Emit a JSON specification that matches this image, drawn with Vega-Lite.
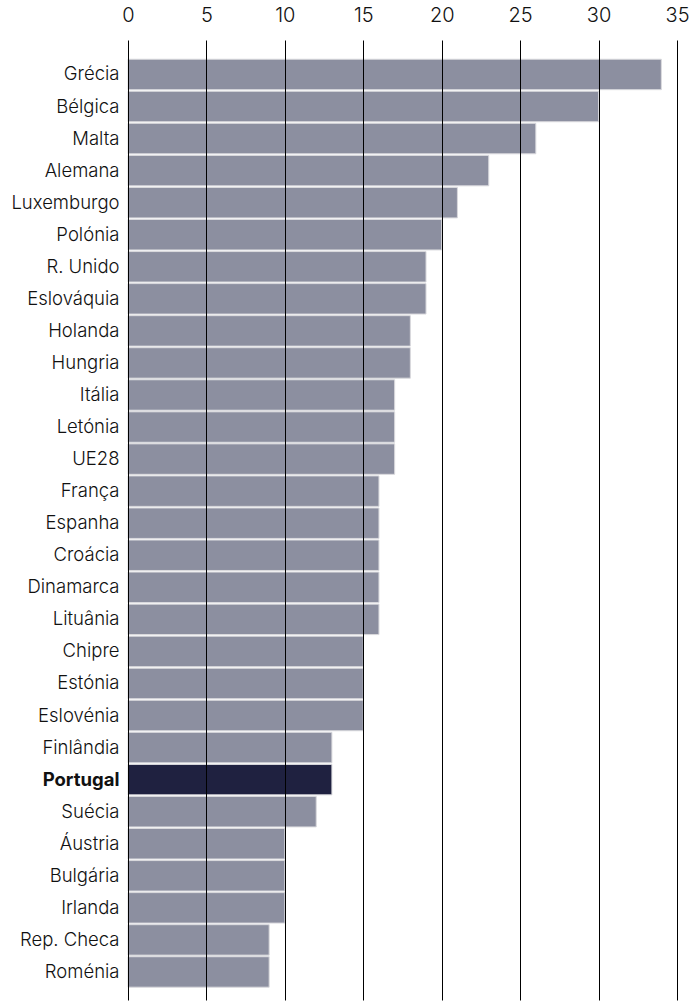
{
  "$schema": "https://vega.github.io/schema/vega-lite/v6.json",
  "width": 549,
  "height": 960,
  "autosize": "none",
  "padding": {"left": 128, "top": 40, "right": 23, "bottom": 4},
  "background": "white",
  "config": {"view": {"stroke": null}, "font": "Inter"},
  "data": {"values": [
    {"pais": "Grécia", "valor": 34},
    {"pais": "Bélgica", "valor": 30},
    {"pais": "Malta", "valor": 26},
    {"pais": "Alemana", "valor": 23},
    {"pais": "Luxemburgo", "valor": 21},
    {"pais": "Polónia", "valor": 20},
    {"pais": "R. Unido", "valor": 19},
    {"pais": "Eslováquia", "valor": 19},
    {"pais": "Holanda", "valor": 18},
    {"pais": "Hungria", "valor": 18},
    {"pais": "Itália", "valor": 17},
    {"pais": "Letónia", "valor": 17},
    {"pais": "UE28", "valor": 17},
    {"pais": "França", "valor": 16},
    {"pais": "Espanha", "valor": 16},
    {"pais": "Croácia", "valor": 16},
    {"pais": "Dinamarca", "valor": 16},
    {"pais": "Lituânia", "valor": 16},
    {"pais": "Chipre", "valor": 15},
    {"pais": "Estónia", "valor": 15},
    {"pais": "Eslovénia", "valor": 15},
    {"pais": "Finlândia", "valor": 13},
    {"pais": "Portugal", "valor": 13},
    {"pais": "Suécia", "valor": 12},
    {"pais": "Áustria", "valor": 10},
    {"pais": "Bulgária", "valor": 10},
    {"pais": "Irlanda", "valor": 10},
    {"pais": "Rep. Checa", "valor": 9},
    {"pais": "Roménia", "valor": 9}
  ]},
  "mark": {"type": "bar", "stroke": "#d9d9dd", "strokeWidth": 1},
  "encoding": {
    "y": {
      "field": "pais", "type": "nominal", "sort": null,
      "scale": {"paddingInner": 0.05, "paddingOuter": 0.5, "align": 0.6},
      "axis": {
        "title": null, "domain": false, "ticks": false, "grid": false,
        "labelFontSize": 18.5, "labelColor": "#111", "labelPadding": 9,
        "labelFontWeight": {"condition": {"test": "datum.value == 'Portugal'", "value": "bold"}, "value": 300}
      }
    },
    "x": {
      "field": "valor", "type": "quantitative",
      "scale": {"domain": [0, 35], "nice": false},
      "axis": {
        "orient": "top", "title": null, "values": [0, 5, 10, 15, 20, 25, 30, 35],
        "domain": false, "ticks": false, "labelPadding": 15, "labelFontSize": 20,
        "labelFontWeight": 300,
        "labelColor": "#111", "grid": true, "gridColor": "#000", "gridWidth": 1,
        "gridOpacity": 1, "zindex": 1, "labelFlush": false
      }
    },
    "color": {
      "condition": {"test": "datum.pais == 'Portugal'", "value": "#1f2140"},
      "value": "#8c8fa0"
    }
  }
}
